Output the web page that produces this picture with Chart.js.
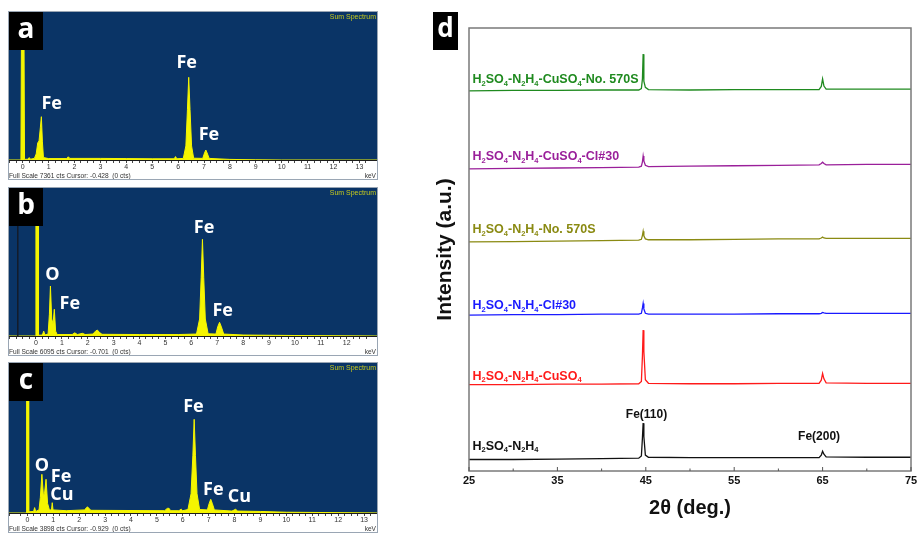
<!DOCTYPE html>
<html>
<head>
<meta charset="utf-8">
<script src="https://cdn.jsdelivr.net/npm/chart.js@4.4.0/dist/chart.umd.min.js"></script>
<style>
  body { margin: 0; background: #fff; width: 917px; height: 533px; overflow: hidden; position: relative; }
  canvas { position: absolute; }
</style>
</head>
<body>
<canvas id="edsA" width="390" height="182" style="left:0;top:0"></canvas>
<canvas id="edsB" width="390" height="182" style="left:0;top:176px"></canvas>
<canvas id="edsC" width="390" height="182" style="left:0;top:351px"></canvas>
<canvas id="xrd" width="497" height="533" style="left:420px;top:0"></canvas>
<script>
// ---- EDS spectra (keV, counts) ----
const keVA = [-0.53, -0.07, -0.04, 0.04, 0.07, 0.2, 0.25, 0.3, 0.45, 0.52, 0.58, 0.63, 0.68, 0.72, 0.76, 0.8, 1.0, 1.7, 1.76, 1.82, 3.0, 4.0, 5.0, 5.85, 5.9, 5.95, 6.2, 6.3, 6.36, 6.41, 6.46, 6.52, 6.6, 6.95, 7.02, 7.07, 7.12, 7.2, 8.0, 9.0, 10.0, 13.7];
const ctsA = [0, 0, 9000, 9000, 30, 40, 120, 40, 80, 300, 850, 950, 1600, 2154, 900, 120, 70, 70, 160, 80, 80, 70, 60, 60, 170, 60, 80, 700, 2500, 4113, 2500, 700, 90, 80, 350, 497, 350, 80, 30, 10, 0, 0];

const keVB = [-1.04, -0.02, 0.0, 0.08, 0.1, 0.25, 0.3, 0.35, 0.47, 0.52, 0.56, 0.61, 0.66, 0.71, 0.76, 0.82, 1.4, 1.5, 1.6, 1.8, 1.9, 2.2, 2.3, 2.37, 2.45, 2.55, 4.0, 5.5, 6.2, 6.32, 6.38, 6.43, 6.48, 6.54, 6.65, 6.95, 7.02, 7.09, 7.16, 7.25, 8.0, 10.0, 13.2];
const ctsB = [0, 0, 9000, 9000, 30, 40, 200, 40, 80, 900, 2059, 700, 500, 1100, 200, 60, 60, 130, 60, 110, 60, 80, 200, 247, 150, 70, 60, 60, 80, 700, 2400, 3982, 2400, 700, 90, 80, 380, 564, 380, 80, 40, 20, 0];

const keVC = [-0.71, -0.05, -0.03, 0.03, 0.05, 0.24, 0.28, 0.32, 0.45, 0.5, 0.56, 0.62, 0.66, 0.72, 0.78, 0.85, 0.93, 0.96, 0.99, 1.5, 2.2, 2.32, 2.45, 5.3, 5.4, 5.47, 5.53, 5.85, 5.94, 6.0, 6.2, 6.32, 6.39, 6.44, 6.49, 6.55, 6.65, 6.95, 7.02, 7.08, 7.14, 7.22, 7.9, 8.04, 8.12, 9.0, 10.0, 13.7];
const ctsC = [0, 0, 9000, 9000, 30, 40, 140, 40, 80, 400, 1005, 450, 500, 876, 250, 80, 80, 268, 80, 60, 80, 160, 70, 60, 120, 122, 60, 60, 100, 60, 90, 500, 1500, 2435, 1500, 500, 90, 80, 250, 356, 250, 80, 50, 96, 50, 40, 20, 0];

const fullScale = [7361, 6095, 3898];
const cursorKeV = [-0.428, -0.701, -0.929];

// ---- XRD patterns (2theta, stacked intensity a.u.) ----
const twoTheta = [25, 30, 35, 40, 44.2, 44.5, 44.62, 44.7, 44.78, 44.95, 45.3, 50, 55, 60, 64.6, 64.85, 65.0, 65.15, 65.4, 70, 75];
const xrdBase      = [2.6, 2.6, 2.7, 2.8, 2.9, 3.4, 7.5, 10.8, 7.8, 3.6, 3.1, 3.0, 3.0, 3.0, 3.0, 3.6, 4.45, 3.8, 3.2, 3.1, 3.1];
const xrdCuSO4     = [19.5, 19.5, 19.6, 19.6, 19.7, 20.2, 26.0, 31.8, 27.0, 20.6, 19.8, 19.7, 19.7, 19.8, 19.8, 20.5, 22.0, 20.8, 19.9, 19.8, 19.8];
const xrdCl30      = [35.2, 35.3, 35.3, 35.4, 35.4, 35.6, 36.8, 37.8, 36.6, 35.6, 35.4, 35.4, 35.4, 35.5, 35.5, 35.6, 35.8, 35.7, 35.6, 35.6, 35.6];
const xrdNo570S    = [51.7, 51.8, 51.9, 52.0, 52.1, 52.3, 53.2, 54.1, 53.1, 52.4, 52.2, 52.2, 52.3, 52.4, 52.4, 52.6, 52.8, 52.6, 52.5, 52.5, 52.5];
const xrdCuCl30    = [68.2, 68.3, 68.4, 68.5, 68.6, 68.8, 69.8, 71.1, 70.0, 69.0, 68.7, 68.8, 68.9, 69.0, 69.1, 69.4, 69.7, 69.4, 69.1, 69.2, 69.2];
const xrdCuNo570S  = [85.8, 85.9, 85.9, 86.0, 86.0, 86.3, 88.5, 94.1, 88.0, 86.6, 86.1, 86.0, 86.1, 86.1, 86.1, 86.8, 88.5, 86.9, 86.2, 86.2, 86.2];

const seriesNames = ['H_2SO_4-N_2H_4', 'H_2SO_4-N_2H_4-CuSO_4', 'H_2SO_4-N_2H_4-Cl#30', 'H_2SO_4-N_2H_4-No. 570S', 'H_2SO_4-N_2H_4-CuSO_4-Cl#30', 'H_2SO_4-N_2H_4-CuSO_4-No. 570S'];
const seriesColors = ['#111111', '#ff1a1a', '#1a1aff', '#8a8a12', '#9a1f9a', '#1f8a1f'];
const seriesLabelY = [5.6, 21.4, 37.3, 54.4, 70.9, 88.3];

const toXY = (xs, ys) => xs.map((x, i) => ({ x: x, y: ys[i] }));

const EDS_BG = '#0a3466';
const EDS_YELLOW = '#f5f500';

const edsDecor = {
  id: 'edsDecor',
  beforeDatasetsDraw(chart, args, opts) {
    const { ctx, chartArea: a } = chart;
    ctx.save();
    ctx.fillStyle = EDS_BG;
    ctx.fillRect(a.left, a.top, a.right - a.left, a.bottom - a.top);
    ctx.restore();
  },
  afterDraw(chart, args, opts) {
    const { ctx, chartArea: a, scales } = chart;
    ctx.save();
    // element labels
    ctx.fillStyle = '#fff';
    ctx.font = 'bold 18px "Open Sans"';
    ctx.textAlign = 'center';
    ctx.textBaseline = 'middle';
    opts.labels.forEach(l => {
      ctx.fillText(l.t, scales.x.getPixelForValue(l.x), scales.y.getPixelForValue(l.y));
    });
    // panel letter
    ctx.fillStyle = '#000';
    ctx.fillRect(a.left, a.top, 34, 38);
    ctx.fillStyle = '#fff';
    ctx.font = 'bold 28px "Open Sans"';
    ctx.fillText(opts.letter, a.left + 17, a.top + 18);
    // sum spectrum
    ctx.fillStyle = '#c4c81e';
    ctx.font = '7px "Liberation Sans"';
    ctx.textAlign = 'right';
    ctx.fillText('Sum Spectrum', a.right - 1, a.top + 5);
    // footer
    ctx.fillStyle = '#333';
    ctx.font = '6.6px "Liberation Sans"';
    ctx.textAlign = 'left';
    ctx.fillText(opts.footer, a.left, a.bottom + 16.5);
    ctx.textAlign = 'right';
    ctx.fillText('keV', a.right - 1, a.bottom + 16.5);
    // frame
    ctx.strokeStyle = '#9aa6b4';
    ctx.lineWidth = 1;
    ctx.strokeRect(a.left - 0.5, a.top - 0.5, a.right - a.left + 1, a.bottom - a.top + 20);
    ctx.restore();
  }
};

function makeEds(id, keV, cts, idx, padBottom, letter, labels, showCursor) {
  const xs = { '0': [-0.53, 13.68], '1': [-1.04, 13.17], '2': [-0.71, 13.5] }[idx];
  const datasets = [{
    data: toXY(keV, cts),
    borderColor: EDS_YELLOW,
    backgroundColor: EDS_YELLOW,
    borderWidth: 1,
    fill: 'origin',
    pointRadius: 0,
    tension: 0
  }];
  if (showCursor) {
    datasets.unshift({
      data: [{ x: cursorKeV[idx], y: 0 }, { x: cursorKeV[idx], y: fullScale[idx] * 0.75 }],
      borderColor: '#141c2a',
      borderWidth: 1.5,
      pointRadius: 0,
      fill: false
    });
  }
  return new Chart(document.getElementById(id), {
    type: 'line',
    data: { datasets },
    plugins: [edsDecor],
    options: {
      responsive: false,
      animation: false,
      devicePixelRatio: 1,
      layout: { padding: { left: 9, right: 13, top: 12, bottom: padBottom } },
      plugins: {
        legend: { display: false },
        tooltip: { enabled: false },
        edsDecor: {
          letter,
          labels,
          footer: 'Full Scale ' + fullScale[idx] + ' cts Cursor: ' + cursorKeV[idx].toFixed(3) + '  (0 cts)'
        }
      },
      scales: {
        x: {
          type: 'linear',
          min: xs[0],
          max: xs[1],
          afterFit: s => { s.height = 10; },
          border: { color: '#1c1c1c', width: 1 },
          grid: { drawOnChartArea: false, tickLength: 3, color: '#444' },
          ticks: {
            stepSize: 0.25,
            autoSkip: false,
            maxRotation: 0,
            padding: 0,
            color: '#333',
            font: { size: 7, family: 'Liberation Sans' },
            callback: v => Math.abs(v - Math.round(v)) < 1e-6 ? String(Math.round(v)) : ''
          }
        },
        y: { display: false, min: 0, max: fullScale[idx] }
      }
    }
  });
}

makeEds('edsA', keVA, ctsA, 0, 12, 'a', [
  { t: 'Fe', x: 1.12, y: 2785 }, { t: 'Fe', x: 6.33, y: 4839 }, { t: 'Fe', x: 7.19, y: 1243 }
], false);
makeEds('edsB', keVB, ctsB, 1, 12, 'b', [
  { t: 'O', x: 0.64, y: 2512 }, { t: 'Fe', x: 1.31, y: 1305 }, { t: 'Fe', x: 6.49, y: 4435 }, { t: 'Fe', x: 7.21, y: 1030 }
], true);
makeEds('edsC', keVC, ctsC, 2, 10, 'c', [
  { t: 'O', x: 0.56, y: 1221 }, { t: 'Fe', x: 1.30, y: 943 }, { t: 'Cu', x: 1.33, y: 468 },
  { t: 'Fe', x: 6.41, y: 2747 }, { t: 'Fe', x: 7.18, y: 598 }, { t: 'Cu', x: 8.19, y: 424 }
], false);

// ---- XRD panel ----
function drawRich(ctx, text, x, y, size) {
  const parts = text.split(/(_\d)/).filter(p => p.length);
  let cx = x;
  parts.forEach(p => {
    if (p[0] === '_') {
      ctx.font = 'bold ' + (size * 0.6) + 'px "Liberation Sans"';
      ctx.fillText(p.slice(1), cx, y + size * 0.33);
      cx += ctx.measureText(p.slice(1)).width;
    } else {
      ctx.font = 'bold ' + size + 'px "Liberation Sans"';
      ctx.fillText(p, cx, y);
      cx += ctx.measureText(p).width;
    }
  });
}

const xrdDecor = {
  id: 'xrdDecor',
  afterDraw(chart) {
    const { ctx, chartArea: a, scales: { x, y } } = chart;
    ctx.save();
    // frame
    ctx.strokeStyle = '#7a7a7a';
    ctx.lineWidth = 1.5;
    ctx.strokeRect(a.left, a.top, a.right - a.left, a.bottom - a.top);
    // inward ticks
    ctx.lineWidth = 1;
    ctx.strokeStyle = '#555';
    x.ticks.forEach((t, i) => {
      const px = x.getPixelForValue(t.value);
      ctx.beginPath(); ctx.moveTo(px, a.bottom); ctx.lineTo(px, a.bottom - 4); ctx.stroke();
      if (i < x.ticks.length - 1) {
        const mx = x.getPixelForValue(t.value + 5);
        ctx.beginPath(); ctx.moveTo(mx, a.bottom); ctx.lineTo(mx, a.bottom - 2.5); ctx.stroke();
      }
    });
    // series labels
    ctx.textAlign = 'left';
    ctx.textBaseline = 'middle';
    seriesNames.forEach((n, i) => {
      ctx.fillStyle = seriesColors[i];
      drawRich(ctx, n, x.getPixelForValue(25.4), y.getPixelForValue(seriesLabelY[i]), 12.5);
    });
    // peak labels
    ctx.fillStyle = '#111';
    ctx.textAlign = 'center';
    ctx.font = 'bold 12px "Liberation Sans"';
    ctx.fillText('Fe(110)', x.getPixelForValue(45.08), y.getPixelForValue(12.6));
    ctx.fillText('Fe(200)', x.getPixelForValue(64.6), y.getPixelForValue(7.8));
    // panel letter
    ctx.fillStyle = '#000';
    ctx.fillRect(13, 12, 25, 38);
    ctx.fillStyle = '#fff';
    ctx.font = 'bold 26px "Open Sans"';
    ctx.fillText('d', 25.5, 30);
    ctx.restore();
  }
};

const xrdSets = [xrdBase, xrdCuSO4, xrdCl30, xrdNo570S, xrdCuCl30, xrdCuNo570S];

new Chart(document.getElementById('xrd'), {
  type: 'line',
  data: {
    datasets: xrdSets.map((s, i) => ({
      label: seriesNames[i],
      data: toXY(twoTheta, s),
      borderColor: seriesColors[i],
      borderWidth: 1.3,
      pointRadius: 0,
      fill: false,
      tension: 0
    }))
  },
  plugins: [xrdDecor],
  options: {
    responsive: false,
    animation: false,
    devicePixelRatio: 1,
    layout: { padding: { left: 0, right: 6, top: 28, bottom: 0 } },
    plugins: { legend: { display: false }, tooltip: { enabled: false } },
    scales: {
      x: {
        type: 'linear',
        min: 25,
        max: 75,
        afterFit: s => { s.height = 62; s.paddingLeft = 0; s.paddingRight = 0; },
        border: { display: false },
        grid: { display: false, drawTicks: false },
        ticks: { stepSize: 10, padding: 3, color: '#111', font: { size: 11, weight: 'bold', family: 'Liberation Sans' } },
        title: { display: true, text: '2θ (deg.)', color: '#111', padding: { top: 0, bottom: 13 }, font: { size: 20, weight: 'bold', family: 'Liberation Sans' } }
      },
      y: {
        min: 0,
        max: 100,
        afterFit: s => { s.width = 49; },
        border: { display: false },
        grid: { display: false, drawTicks: false },
        ticks: { display: false },
        title: { display: true, text: 'Intensity (a.u.)', color: '#111', padding: { top: 13, bottom: 0 }, font: { size: 21, weight: 'bold', family: 'Liberation Sans' } }
      }
    }
  }
});
</script>
</body>
</html>
